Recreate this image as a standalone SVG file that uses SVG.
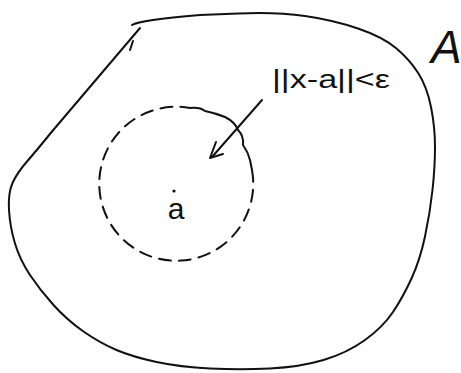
<svg xmlns="http://www.w3.org/2000/svg" width="461" height="373" viewBox="0 0 461 373">
<style>
.ink{fill:none;stroke:#111;stroke-width:2;stroke-linecap:round;stroke-linejoin:round}
.dash{stroke-dasharray:12 8}
.lbl{font-family:"Liberation Sans",Arial,sans-serif;fill:#111}
</style>
<rect width="461" height="373" fill="#fff"/>
<g id="setA">
<path class="ink" d="M132 25 Q140 20 200 15 Q238.5 13.5 238.5 13.5 Q277 12 305 16 Q333 20 358 28.5 Q383 37 396.5 48.5 Q410 60 418.5 73.5 Q427 87 431 107 Q435 127 435 147 Q435 167 432.5 190 Q430 213 425 236.5 Q420 260 411.5 278.5 Q403 297 393 312 Q383 327 365 340 Q347 353 323.5 360 Q300 367 270 368.5 Q240 370 210 368.5 Q180 367 156.5 362 Q133 357 116.5 350 Q100 343 83.5 331.5 Q67 320 53.5 305 Q40 290 30 275 Q20 260 15 243.5 Q10 227 9 210 Q8 193 12.5 183 Q17 173 27 161.5 Q37 150 52 131.5 L140 28"/>
<path class="ink" d="M130 50 L133 41"/>
<text class="lbl" x="431" y="63" font-size="46" font-style="italic">A</text>
</g>
<g id="ball">
<path class="ink dash" d="M252 170 A77 77 0 1 1 190 108"/>
<path class="ink" d="M190 108 Q200 107 205 111 Q215 113 225 117 Q235 122 238 130 Q244 136 243 145 Q248 152 250 160 L252 170"/>
</g>
<g id="point-a">
<circle cx="174" cy="191" r="1.6" fill="#111"/>
<text class="lbl" x="176" y="219" font-size="30" text-anchor="middle">a</text>
</g>
<g id="label-eps">
<text class="lbl" x="272" y="88" font-size="26" textLength="118" lengthAdjust="spacingAndGlyphs">||x-a||&lt;ε</text>
</g>
<g id="connectors">
<path class="ink" d="M262 100 L212 157"/>
<path class="ink" d="M216 142 L210 158 L223 154"/>
</g>
</svg>
